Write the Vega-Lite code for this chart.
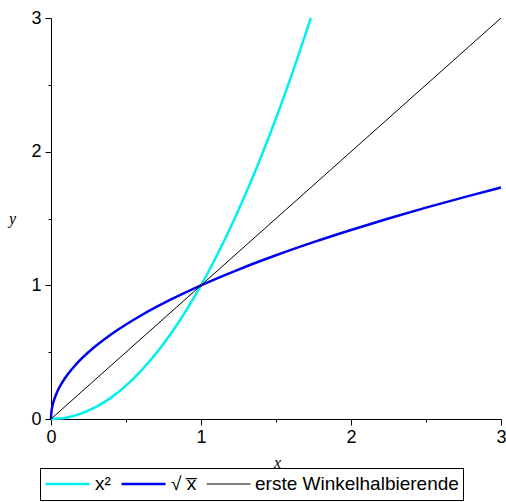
{
  "$schema": "https://vega.github.io/schema/vega-lite/v6.json",
  "width": 450,
  "height": 401,
  "autosize": {"type": "none"},
  "padding": {"left": 51, "top": 18, "right": 5, "bottom": 83},
  "background": "white",
  "config": {"view": {"stroke": null}},
  "data": {"values": [
    {"series": "x²", "x": 0, "y": 0},
    {"series": "x²", "x": 0.1, "y": 0.01},
    {"series": "x²", "x": 0.2, "y": 0.04},
    {"series": "x²", "x": 0.3, "y": 0.09},
    {"series": "x²", "x": 0.4, "y": 0.16},
    {"series": "x²", "x": 0.5, "y": 0.25},
    {"series": "x²", "x": 0.6, "y": 0.36},
    {"series": "x²", "x": 0.7, "y": 0.49},
    {"series": "x²", "x": 0.8, "y": 0.64},
    {"series": "x²", "x": 0.9, "y": 0.81},
    {"series": "x²", "x": 1.0, "y": 1.0},
    {"series": "x²", "x": 1.1, "y": 1.21},
    {"series": "x²", "x": 1.2, "y": 1.44},
    {"series": "x²", "x": 1.3, "y": 1.69},
    {"series": "x²", "x": 1.4, "y": 1.96},
    {"series": "x²", "x": 1.5, "y": 2.25},
    {"series": "x²", "x": 1.6, "y": 2.56},
    {"series": "x²", "x": 1.7, "y": 2.89},
    {"series": "x²", "x": 1.7321, "y": 3.0},
    {"series": "√ x̅", "x": 0, "y": 0},
    {"series": "√ x̅", "x": 0.002, "y": 0.0447},
    {"series": "√ x̅", "x": 0.005, "y": 0.0707},
    {"series": "√ x̅", "x": 0.01, "y": 0.1},
    {"series": "√ x̅", "x": 0.02, "y": 0.1414},
    {"series": "√ x̅", "x": 0.04, "y": 0.2},
    {"series": "√ x̅", "x": 0.07, "y": 0.2646},
    {"series": "√ x̅", "x": 0.1, "y": 0.3162},
    {"series": "√ x̅", "x": 0.15, "y": 0.3873},
    {"series": "√ x̅", "x": 0.2, "y": 0.4472},
    {"series": "√ x̅", "x": 0.3, "y": 0.5477},
    {"series": "√ x̅", "x": 0.4, "y": 0.6325},
    {"series": "√ x̅", "x": 0.5, "y": 0.7071},
    {"series": "√ x̅", "x": 0.6, "y": 0.7746},
    {"series": "√ x̅", "x": 0.8, "y": 0.8944},
    {"series": "√ x̅", "x": 1.0, "y": 1.0},
    {"series": "√ x̅", "x": 1.25, "y": 1.118},
    {"series": "√ x̅", "x": 1.5, "y": 1.2247},
    {"series": "√ x̅", "x": 1.75, "y": 1.3229},
    {"series": "√ x̅", "x": 2.0, "y": 1.4142},
    {"series": "√ x̅", "x": 2.25, "y": 1.5},
    {"series": "√ x̅", "x": 2.5, "y": 1.5811},
    {"series": "√ x̅", "x": 2.75, "y": 1.6583},
    {"series": "√ x̅", "x": 3.0, "y": 1.7321},
    {"series": "erste Winkelhalbierende", "x": 0, "y": 0},
    {"series": "erste Winkelhalbierende", "x": 3, "y": 3}
  ]},
  "mark": {"type": "line", "interpolate": "monotone", "clip": false},
  "encoding": {
    "x": {
      "field": "x", "type": "quantitative",
      "scale": {"domain": [0, 3], "nice": false},
      "axis": {
        "title": "x",
        "values": [0, 0.5, 1, 1.5, 2, 2.5, 3],
        "format": "~g",
        "labelExpr": "datum.value % 1 === 0 ? datum.label : ''",
        "grid": false,
        "domainColor": "black",
        "tickColor": "black",
        "tickSize": {"condition": {"test": "datum.value % 1 === 0", "value": 6}, "value": 3},
        "labelFont": "Liberation Sans",
        "labelFontSize": 18,
        "labelColor": "black",
        "labelPadding": 3,
        "labelFlush": false,
        "titleFont": "Liberation Serif",
        "titleFontStyle": "italic",
        "titleFontWeight": "normal",
        "titleFontSize": 16,
        "titleColor": "black",
        "titleX": 226,
        "titleY": 43,
        "titleAlign": "center",
        "titleBaseline": "middle"
      }
    },
    "y": {
      "field": "y", "type": "quantitative",
      "scale": {"domain": [0, 3], "nice": false},
      "axis": {
        "title": "y",
        "values": [0, 0.5, 1, 1.5, 2, 2.5, 3],
        "format": "~g",
        "labelExpr": "datum.value % 1 === 0 ? datum.label : ''",
        "grid": false,
        "domainColor": "black",
        "tickColor": "black",
        "tickSize": {"condition": {"test": "datum.value % 1 === 0", "value": 6}, "value": 3},
        "labelFont": "Liberation Sans",
        "labelFontSize": 18,
        "labelColor": "black",
        "labelPadding": 4,
        "labelFlush": false,
        "titleFont": "Liberation Serif",
        "titleFontStyle": "italic",
        "titleFontWeight": "normal",
        "titleFontSize": 16,
        "titleColor": "black",
        "titleAngle": 0,
        "titleX": -39,
        "titleY": 200,
        "titleAlign": "center",
        "titleBaseline": "middle"
      }
    },
    "color": {
      "field": "series", "type": "nominal",
      "scale": {"domain": ["x²", "√ x̅", "erste Winkelhalbierende"], "range": ["#00F0F0", "#0000F0", "#000000"]},
      "legend": {
        "title": null,
        "orient": "none",
        "legendX": -11,
        "legendY": 450,
        "direction": "horizontal",
        "strokeColor": "black",
        "padding": 4,
        "symbolType": "stroke",
        "symbolSize": 1936,
        "clipHeight": 24,
        "labelFont": "Liberation Sans",
        "labelFontSize": 19,
        "labelColor": "black",
        "labelOffset": 4,
        "columnPadding": 9,
        "labelLimit": 400
      }
    },
    "strokeWidth": {
      "field": "series", "type": "ordinal",
      "scale": {"type": "ordinal", "domain": ["x²", "√ x̅", "erste Winkelhalbierende"], "range": [2.5, 2.5, 1]},
      "legend": {"title": null}
    },
    "order": {"field": "x", "type": "quantitative"}
  }
}
